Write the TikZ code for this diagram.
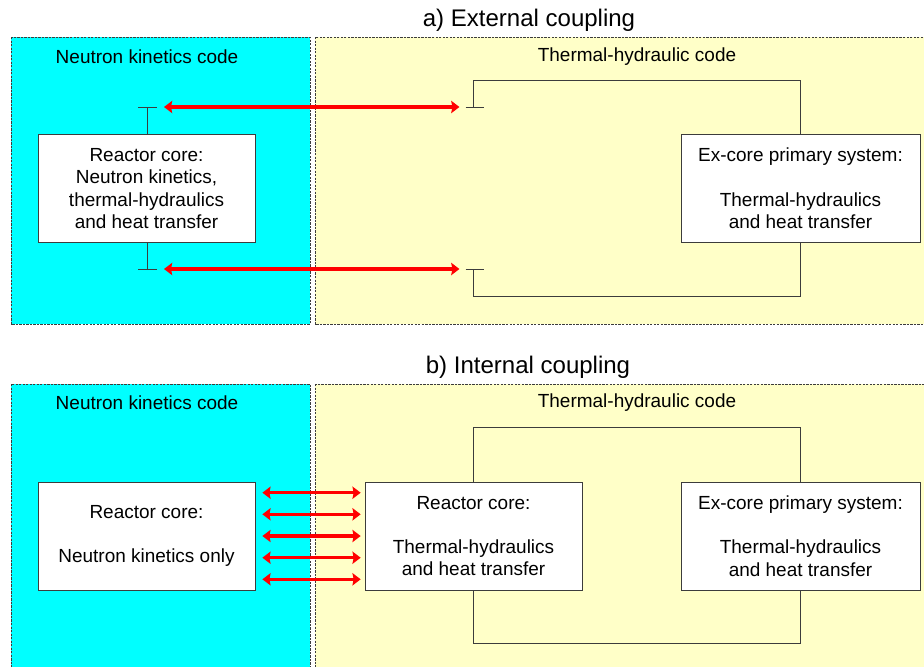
\documentclass[tikz,border=0pt]{standalone}
\usepackage{fontspec}
\setmainfont{Liberation Sans}
\usetikzlibrary{calc, arrows.meta}
\usetikzlibrary{positioning}

\definecolor{nkcyan}{RGB}{0,255,255}
\definecolor{thyellow}{RGB}{255,255,200}
\definecolor{linegray}{RGB}{60,60,60}

\tikzset{
  codearea/.style={draw=linegray, line width=.5pt, dash pattern=on 2pt off 1pt},
  compbox/.style={draw=linegray, fill=white, line width=.6pt, inner sep=0pt,
    minimum width=6.51cm, minimum height=3.24cm, align=center,
    font=\fontsize{16.2}{19}\selectfont},
  pipe/.style={draw=linegray, line width=.6pt},
  cpl/.style={red, line width=2.8pt,
    {Stealth[length=7pt,width=10.5pt,inset=1pt]}-{Stealth[length=7pt,width=10.5pt,inset=1pt]}},
  lbl/.style={font=\fontsize{16.2}{19}\selectfont},
  ttl/.style={font=\fontsize{20.5}{24}\selectfont}
}

\begin{document}
\begin{tikzpicture}[x=0.03cm, y=-0.03cm]
\useasboundingbox (0,0) rectangle (924,666);
\clip (0,0) rectangle (924,666);
% a) external coupling
\begin{scope}
    \draw[codearea, fill=nkcyan] (11,37) rectangle (310,324);
    \draw[codearea, fill=thyellow] (315,37) rectangle (940,324);
    \node[ttl] (ttla) at (529,20) {a) External coupling};
    \node[lbl] (nklabela) at (147,57) {Neutron kinetics code};
    \node[lbl] (thlabela) at (637,57) {Thermal-hydraulic code};
    \node[compbox] (nkcorea) at (146.5,188.5)
        {Reactor core:\\Neutron kinetics,\\thermal-hydraulics\\and heat transfer};
    \node[compbox, minimum width=7.17cm] (excorea) at (800.5,188.5)
        {Ex-core primary system:\\[19pt]Thermal-hydraulics\\and heat transfer};
    \coordinate (nktopa) at (147,107);
    \coordinate (nkbota) at (147,269);
    \coordinate (thtopa) at (473.5,107);
    \coordinate (thbota) at (473.5,269);
    \draw[pipe] (nkcorea.north -| nktopa) -- (nktopa) ($(nktopa)+(-9,0)$) -- ($(nktopa)+(10,0)$);
    \draw[pipe] (nkcorea.south -| nkbota) -- (nkbota) ($(nkbota)+(-9,0)$) -- ($(nkbota)+(10,0)$);
    \draw[pipe] ($(thtopa)+(-8,0)$) -- ($(thtopa)+(10,0)$);
    \draw[pipe] ($(thbota)+(-8,0)$) -- ($(thbota)+(10,0)$);
    \draw[pipe] (thtopa) -- (thtopa |- 0,80) -| (excorea.north);
    \draw[pipe] (excorea.south) |- (thbota |- 0,296) -- (thbota);
    \draw[cpl, line width=3.3pt, shorten <=14.5pt, shorten >=12pt] (nktopa) -- (thtopa);
    \draw[cpl, line width=3.3pt, shorten <=14.5pt, shorten >=12pt] (nkbota) -- (thbota);
\end{scope}
% b) internal coupling
\begin{scope}
    \draw[codearea, fill=nkcyan] (11,384) rectangle (310,700);
    \draw[codearea, fill=thyellow] (315,384) rectangle (940,700);
    \node[ttl] (ttlb) at (528,367) {b) Internal coupling};
    \node[lbl] (nklabelb) at (147,403) {Neutron kinetics code};
    \node[lbl] (thlabelb) at (637,403) {Thermal-hydraulic code};
    \node[compbox] (nkcoreb) at (146.5,536)
        {Reactor core:\\[19pt]Neutron kinetics only};
    \node[compbox] (thcoreb) at (473.5,536)
        {Reactor core:\\[19pt]Thermal-hydraulics\\and heat transfer};
    \node[compbox, minimum width=7.17cm] (excoreb) at (800.5,536)
        {Ex-core primary system:\\[19pt]Thermal-hydraulics\\and heat transfer};
    \draw[pipe] (thcoreb.north) -- (thcoreb.north |- 0,427) -| (excoreb.north);
    \draw[pipe] (thcoreb.south) -- (thcoreb.south |- 0,643) -| (excoreb.south);
    \foreach \dy in {-43.3,-21.7,0,21.7,43.3}
        \draw[cpl, shorten <=6pt, shorten >=3.4pt]
            ($(nkcoreb.east)+(0,\dy)$) -- ($(thcoreb.west)+(0,\dy)$);
\end{scope}
\end{tikzpicture}
\end{document}
